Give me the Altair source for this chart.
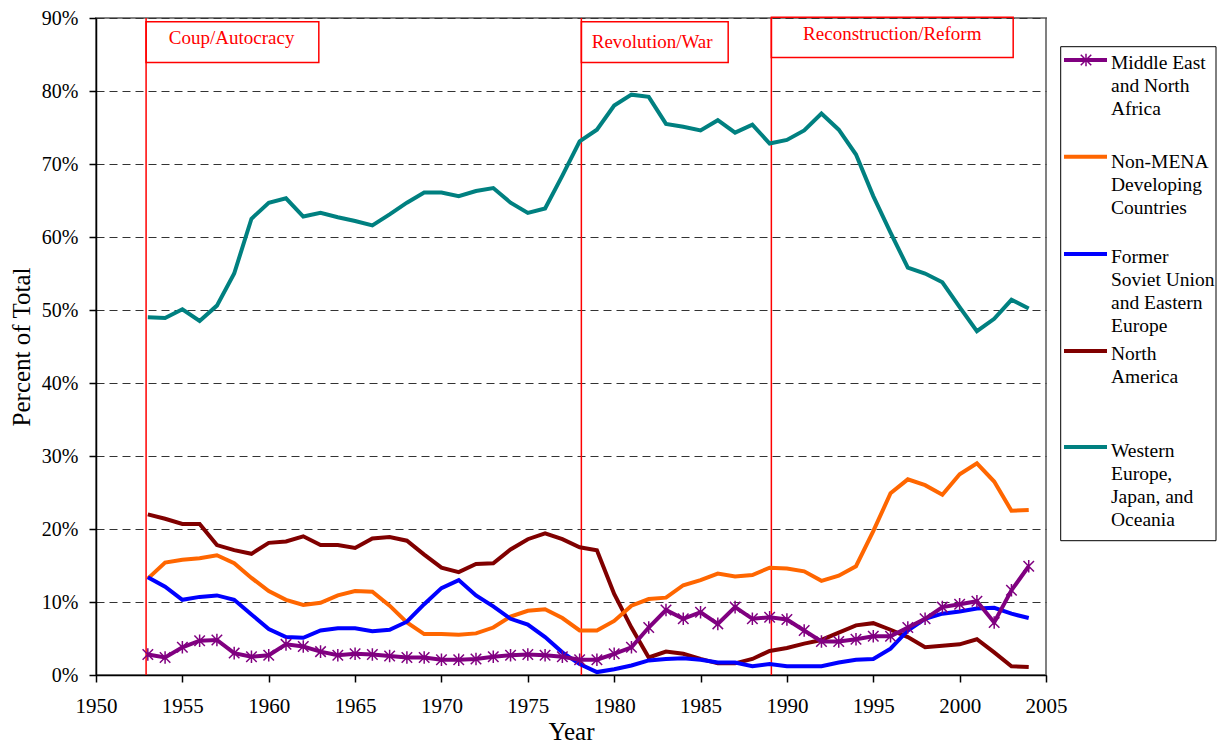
import altair as alt
import pandas as pd

# ---------------- data ----------------
years = list(range(1953, 2005))

mena = [2.8, 2.4, 3.8, 4.7, 4.8, 3.0, 2.5, 2.7, 4.2, 3.9, 3.2, 2.7, 2.9, 2.8, 2.6, 2.4, 2.4, 2.1, 2.1, 2.2, 2.5, 2.7, 2.8, 2.7, 2.5, 2.1,
        2.1, 2.9, 3.8, 6.5, 8.9, 7.7, 8.6, 7.0, 9.3, 7.7, 7.9, 7.6, 6.1, 4.6, 4.6, 4.9, 5.3, 5.3, 6.5, 7.7, 9.3, 9.7, 10.1, 7.2, 11.6, 14.9]
non_mena = [13.2, 15.4, 15.8, 16.0, 16.4, 15.3, 13.3, 11.5, 10.3, 9.6, 9.9, 10.9, 11.5, 11.4, 9.5, 7.2, 5.6, 5.6, 5.5, 5.7, 6.5, 8.0, 8.8, 9.0, 7.8, 6.1,
            6.1, 7.4, 9.5, 10.4, 10.6, 12.3, 13.0, 13.9, 13.5, 13.7, 14.7, 14.6, 14.2, 12.9, 13.6, 14.9, 19.7, 24.9, 26.8, 26.0, 24.7, 27.5, 29.0, 26.5, 22.5, 22.6]
fsu = [13.4, 12.1, 10.3, 10.7, 10.9, 10.3, 8.3, 6.3, 5.2, 5.1, 6.1, 6.4, 6.4, 6.0, 6.2, 7.3, 9.7, 11.9, 13.0, 10.9, 9.4, 7.7, 6.9, 5.2, 3.1, 1.5,
       0.4, 0.8, 1.3, 2.0, 2.2, 2.3, 2.1, 1.7, 1.7, 1.2, 1.5, 1.2, 1.2, 1.2, 1.7, 2.1, 2.2, 3.6, 6.1, 7.7, 8.4, 8.7, 9.1, 9.2, 8.4, 7.8]
north_america = [22.0, 21.4, 20.7, 20.7, 17.8, 17.1, 16.6, 18.1, 18.3, 19.0, 17.8, 17.8, 17.4, 18.7, 18.9, 18.4, 16.5, 14.7, 14.1, 15.2, 15.3, 17.2, 18.6, 19.4, 18.6, 17.5,
                 17.1, 11.1, 6.5, 2.4, 3.2, 2.9, 2.2, 1.6, 1.6, 2.2, 3.3, 3.7, 4.3, 4.8, 5.8, 6.8, 7.1, 6.2, 5.2, 3.8, 4.0, 4.2, 4.9, 3.1, 1.2, 1.1]
western = [49.0, 48.9, 50.1, 48.5, 50.6, 55.0, 62.5, 64.7, 65.3, 62.8, 63.3, 62.7, 62.2, 61.6, 63.1, 64.7, 66.1, 66.1, 65.6, 66.3, 66.7, 64.7, 63.3, 63.9, 68.4, 73.1,
           74.7, 78.0, 79.5, 79.2, 75.5, 75.1, 74.6, 76.0, 74.3, 75.4, 72.8, 73.3, 74.6, 76.9, 74.7, 71.3, 65.6, 60.6, 55.8, 55.0, 53.8, 50.4, 47.1, 48.8, 51.4, 50.2]

series_names = ["Middle East and North Africa", "Non-MENA Developing Countries",
                "Former Soviet Union and Eastern Europe", "North America",
                "Western Europe, Japan, and Oceania"]
legend_labels = ["Middle East\nand North\nAfrica", "Non-MENA\nDeveloping\nCountries",
                 "Former\nSoviet Union\nand Eastern\nEurope", "North\nAmerica",
                 "Western\nEurope,\nJapan, and\nOceania"]
series_values = [mena, non_mena, fsu, north_america, western]

period_labels = ["Coup/Autocracy", "Revolution/War", "Reconstruction/Reform"]
period_starts = [1952.9, 1978.1, 1989.1]

x_ticks = [1950, 1955, 1960, 1965, 1970, 1975, 1980, 1985, 1990, 1995, 2000, 2005]
y_ticks = [0, 10, 20, 30, 40, 50, 60, 70, 80, 90]

# ---------------- styles / layout ----------------
colors = ["#800080", "#FF6600", "#0000FF", "#800000", "#008080"]
draw_order = [4, 3, 1, 2, 0]
FONT = "Liberation Serif"
W, H = 950, 657

# annotation boxes (data units)
box_ends = [1962.9, 1986.6, 2003.1]
box_lo = [83.9, 83.9, 84.6]
box_hi = [89.5, 89.5, 90.1]
text_x = [1957.85, 1982.2, 1996.1]
text_y = [87.25, 86.75, 87.8]

# legend layout (pixels relative to plot origin)
leg_box = (964.7, 1120.0, 28.7, 522.7)
leg_line_x = (968.0, 1011.0)
leg_marker_x = 990.0
leg_text_x = 1015.0
leg_line_y = [42.0, 138.7, 236.0, 333.0, 429.0]
leg_text_y = [35.8, 134.5, 229.8, 326.8, 423.5]

asterisk = "M-1,-1L1,1M-1,1L1,-1M0,-1.2L0,1.2"

x_scale = alt.Scale(domain=[1950, 2005], nice=False, zero=False)
y_scale = alt.Scale(domain=[0, 90], nice=False, zero=True)
x_axis = alt.Axis(values=x_ticks, format="d", title="Year", grid=False,
                  labelFontSize=21, labelPadding=13, titlePadding=3, labelFlush=False)
y_axis = alt.Axis(values=y_ticks, labelExpr="datum.value + '%'", title="Percent of Total",
                  grid=True, gridDash=[8, 5], gridColor="#333333", gridWidth=1,
                  labelFontSize=20, labelPadding=11, titlePadding=7)


def X(field):
    return alt.X(field, type="quantitative", scale=x_scale, axis=x_axis)


def Y(field):
    return alt.Y(field, type="quantitative", scale=y_scale, axis=y_axis)


layers = []

# period boxes + rules + labels
periods = pd.DataFrame({
    "label": period_labels, "start": period_starts, "end": box_ends,
    "lo": box_lo, "hi": box_hi, "tx": text_x, "ty": text_y,
    "bottom": [0, 0, 0], "top": [90, 90, 90],
})
layers.append(alt.Chart(periods).mark_rule(color="#FF0000", strokeWidth=1.5).encode(
    x=X("start"), y=Y("bottom"), y2="top"))
layers.append(alt.Chart(periods).mark_rect(fill="white", fillOpacity=0, stroke="#FF0000", strokeWidth=1.5).encode(
    x=X("start"), x2="end", y=Y("lo"), y2="hi"))
layers.append(alt.Chart(periods).mark_text(font=FONT, fontSize=19, color="#FF0000",
                                            align="center", baseline="middle").encode(
    x=X("tx"), y=Y("ty"), text="label:N"))

# series lines
for i in draw_order:
    df = pd.DataFrame({"year": years, "value": series_values[i], "series": series_names[i]})
    layers.append(alt.Chart(df).mark_line(color=colors[i], strokeWidth=4).encode(
        x=X("year"), y=Y("value")))
    if i == 0:
        layers.append(alt.Chart(df).mark_point(shape=asterisk, filled=False, color=colors[i],
                                               strokeWidth=1.5, size=110, opacity=1).encode(
            x=X("year"), y=Y("value")))

# legend
one = pd.DataFrame({"k": [0]})
layers.append(alt.Chart(one).mark_rect(fill="white", stroke="#000000", strokeWidth=1).encode(
    x=alt.value(leg_box[0]), x2=alt.value(leg_box[1]), y=alt.value(leg_box[2]), y2=alt.value(leg_box[3])))
for i in range(5):
    layers.append(alt.Chart(one).mark_rule(color=colors[i], strokeWidth=4).encode(
        x=alt.value(leg_line_x[0]), x2=alt.value(leg_line_x[1]),
        y=alt.value(leg_line_y[i])))
    if i == 0:
        layers.append(alt.Chart(one).mark_point(shape=asterisk, filled=False, color=colors[i],
                                                strokeWidth=1.5, size=110, opacity=1).encode(
            x=alt.value(leg_marker_x), y=alt.value(leg_line_y[i])))
    lab = pd.DataFrame({"label": [legend_labels[i]]})
    layers.append(alt.Chart(lab).mark_text(font=FONT, fontSize=19.5, color="black", align="left",
                                           baseline="top", lineBreak="\n", lineHeight=23).encode(
        x=alt.value(leg_text_x), y=alt.value(leg_text_y[i]), text="label:N"))

chart = alt.layer(*layers).properties(
    width=W, height=H,
    autosize=alt.AutoSizeParams(type="none"),
    padding={"left": 88, "top": 10, "right": 171, "bottom": 72},
).configure_view(
    stroke="#808080", strokeWidth=2
).configure_axis(
    domainColor="black", domainWidth=1.5, tickColor="black", tickWidth=1.5, tickSize=7,
    labelFont=FONT, labelColor="black", titleFont=FONT, titleFontSize=25,
    titleFontWeight="normal", titleColor="black"
)

chart.save("out.html", embed_options={"renderer": "svg", "actions": False})
